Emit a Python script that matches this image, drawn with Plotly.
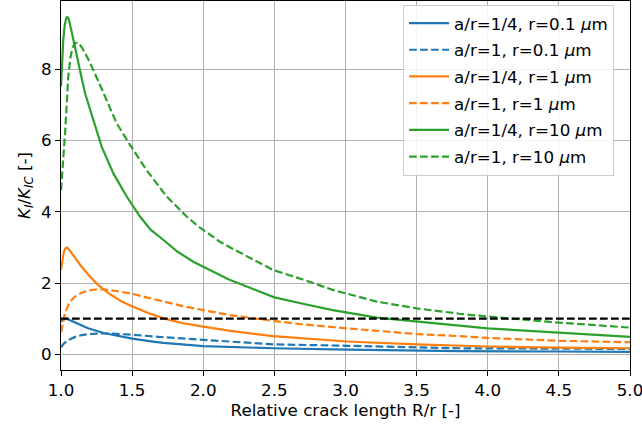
import plotly.graph_objects as go

# ---- data ----
gs_x = [1.0, 1.008, 1.016, 1.025, 1.035, 1.044, 1.055, 1.07, 1.098, 1.14, 1.169, 1.227, 1.286, 1.368, 1.462, 1.555, 1.63, 1.72, 1.82, 1.93, 2.0, 2.117, 2.18, 2.5, 2.7, 2.91, 3.22, 3.5, 3.8, 4.0, 4.5, 5.0]
gs_y = [7.52, 8.3, 8.83, 9.2, 9.42, 9.48, 9.4, 9.15, 8.6, 7.85, 7.33, 6.58, 5.83, 5.08, 4.43, 3.87, 3.5, 3.21, 2.88, 2.6, 2.47, 2.23, 2.1, 1.6, 1.42, 1.24, 1.03, 0.92, 0.81, 0.73, 0.61, 0.49]

gd_x = [1.0, 1.01, 1.02, 1.03, 1.04, 1.05, 1.065, 1.08, 1.1, 1.12, 1.15, 1.2, 1.27, 1.344, 1.391, 1.485, 1.6, 1.743, 1.883, 1.97, 2.117, 2.19, 2.49, 2.7, 2.91, 3.22, 3.5, 3.8, 4.0, 4.5, 5.0]
gd_y = [4.61, 5.1, 5.7, 6.3, 7.0, 7.75, 8.3, 8.6, 8.74, 8.75, 8.6, 8.22, 7.6, 6.9, 6.49, 5.88, 5.18, 4.43, 3.87, 3.58, 3.16, 3.0, 2.37, 2.1, 1.81, 1.48, 1.29, 1.14, 1.06, 0.89, 0.75]

os_x = [1.0, 1.01, 1.02, 1.03, 1.044, 1.06, 1.1, 1.145, 1.2, 1.26, 1.34, 1.427, 1.5, 1.6, 1.72, 1.85, 2.0, 2.19, 2.49, 2.68, 3.01, 3.5, 3.8, 4.0, 4.5, 5.0]
os_y = [2.37, 2.7, 2.88, 2.97, 3.0, 2.92, 2.7, 2.46, 2.2, 1.95, 1.7, 1.48, 1.35, 1.18, 1.01, 0.88, 0.78, 0.66, 0.51, 0.46, 0.36, 0.28, 0.24, 0.22, 0.19, 0.17]

od_x = [1.0, 1.01, 1.028, 1.05, 1.075, 1.1, 1.145, 1.19, 1.24, 1.29, 1.33, 1.4, 1.5, 1.6, 1.72, 1.85, 2.0, 2.19, 2.49, 2.68, 3.01, 3.5, 3.8, 4.0, 4.5, 5.0]
od_y = [0.62, 0.85, 1.15, 1.38, 1.53, 1.63, 1.73, 1.79, 1.82, 1.82, 1.81, 1.77, 1.70, 1.6, 1.48, 1.36, 1.24, 1.10, 0.94, 0.85, 0.73, 0.57, 0.51, 0.46, 0.38, 0.34]

bs_x = [1.0, 1.02, 1.04, 1.07, 1.1, 1.19, 1.3, 1.427, 1.5, 1.66, 1.72, 2.0, 2.49, 3.01, 3.8, 4.5, 5.0]
bs_y = [0.92, 0.98, 1.0, 0.95, 0.88, 0.73, 0.6, 0.49, 0.44, 0.35, 0.32, 0.23, 0.17, 0.13, 0.09, 0.08, 0.07]

bd_x = [1.0, 1.02, 1.05, 1.1, 1.145, 1.2, 1.31, 1.4, 1.5, 1.72, 2.0, 2.49, 3.01, 3.8, 4.5, 5.0]
bd_y = [0.2, 0.3, 0.4, 0.49, 0.54, 0.57, 0.59, 0.58, 0.55, 0.48, 0.40, 0.28, 0.24, 0.17, 0.16, 0.15]

ref_x = [1.0, 5.0]
ref_y = [1.0, 1.0]

x_ticks = [1.0, 1.5, 2.0, 2.5, 3.0, 3.5, 4.0, 4.5, 5.0]
x_ticklabels = ["1.0", "1.5", "2.0", "2.5", "3.0", "3.5", "4.0", "4.5", "5.0"]
y_ticks = [0, 2, 4, 6, 8]

names = ["a/r=1/4, r=0.1 <i>μ</i>m", "a/r=1, r=0.1 <i>μ</i>m",
         "a/r=1/4, r=1 <i>μ</i>m", "a/r=1, r=1 <i>μ</i>m",
         "a/r=1/4, r=10 <i>μ</i>m", "a/r=1, r=10 <i>μ</i>m"]

BLUE, ORANGE, GREEN = "#1f77b4", "#ff7f0e", "#2ca02c"
DASH = "7.7px,3.3px"
FS = 16.7

fig = go.Figure()
series = [
    (bs_x, bs_y, BLUE, "solid"), (bd_x, bd_y, BLUE, DASH),
    (os_x, os_y, ORANGE, "solid"), (od_x, od_y, ORANGE, DASH),
    (gs_x, gs_y, GREEN, "solid"), (gd_x, gd_y, GREEN, DASH),
]
for i, (x, y, c, d) in enumerate(series):
    fig.add_trace(go.Scatter(x=x, y=y, mode="lines", name=names[i],
                             legendgroup=f"g{i}",
                             line=dict(color=c, width=2.2, dash=d)))
fig.add_trace(go.Scatter(x=ref_x, y=ref_y, mode="lines", showlegend=False,
                         line=dict(color="black", width=2.2, dash=DASH)))

axis_common = dict(showgrid=True, gridcolor="#b0b0b0", gridwidth=1,
                   showline=True, linecolor="black", linewidth=1, mirror=True,
                   ticks="outside", ticklen=5, tickcolor="black", zeroline=False,
                   automargin=False, ticklabeloverflow="allow",
                   tickfont=dict(size=FS, color="black"))

fig.update_layout(
    width=642, height=429,
    margin=dict(l=61, r=12, t=1, b=59),
    paper_bgcolor="white", plot_bgcolor="white",
    font=dict(family="DejaVu Sans", size=FS, color="black"),
    xaxis=dict(range=[1.0, 5.0], tickvals=x_ticks, ticktext=x_ticklabels,
               title=dict(text="Relative crack length R/r [-]", standoff=4, font=dict(size=FS)),
               **axis_common),
    yaxis=dict(range=[-0.44, 9.92], tickvals=y_ticks,
               title=dict(text="<i>K</i><sub><i>I</i></sub>/<i>K</i><sub><i>IC</i></sub> [-]",
                          standoff=6, font=dict(size=FS)),
               **axis_common),
    legend=dict(x=0.972, y=0.99, xanchor="right", yanchor="top",
                bgcolor="rgba(255,255,255,0.85)", bordercolor="#cccccc", borderwidth=1,
                font=dict(size=FS), tracegroupgap=2, itemwidth=40),
    showlegend=True,
)

fig.write_html("out.html", config={"displayModeBar": False},
               post_script="document.body.style.margin='0';")
